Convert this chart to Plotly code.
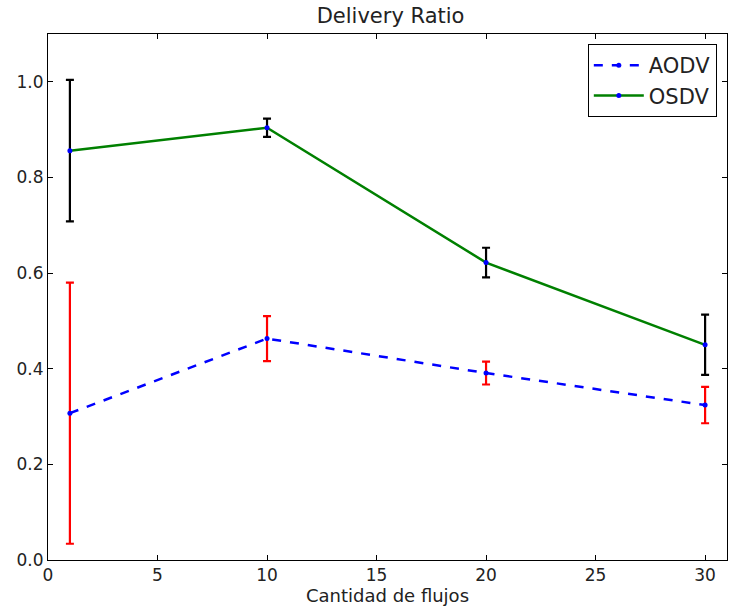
import plotly.graph_objects as go

flows = [1, 10, 20, 30]
aodv = [0.307, 0.463, 0.391, 0.324]
aodv_err = [0.273, 0.047, 0.024, 0.038]
osdv = [0.856, 0.904, 0.622, 0.450]
osdv_err = [0.148, 0.019, 0.031, 0.063]
x_ticks = [0, 5, 10, 15, 20, 25, 30]
y_ticks = [0.0, 0.2, 0.4, 0.6, 0.8, 1.0]

font = "DejaVu Sans"
fig = go.Figure()
fig.add_trace(go.Scatter(
    x=flows, y=aodv, name="AODV", mode="lines+markers",
    line=dict(color="#0000ff", width=2.5, dash="dash"),
    marker=dict(color="#0000ff", size=5),
    error_y=dict(type="data", array=aodv_err, visible=True, color="#ff0000", thickness=2.2, width=4),
))
fig.add_trace(go.Scatter(
    x=flows, y=osdv, name="OSDV", mode="lines+markers",
    line=dict(color="#008000", width=2.5),
    marker=dict(color="#0000ff", size=5),
    error_y=dict(type="data", array=osdv_err, visible=True, color="#000000", thickness=2.2, width=4),
))

axis_common = dict(
    showline=True, linecolor="black", linewidth=1, mirror="ticks",
    ticks="inside", ticklen=5, tickcolor="black", showgrid=False, zeroline=False,
    tickfont=dict(family=font, size=17, color="#222"),
)
fig.update_xaxes(range=[0, 31], tickvals=x_ticks, ticktext=[str(v) for v in x_ticks],
                 title=dict(text="Cantidad de flujos", font=dict(family=font, size=18, color="#222"), standoff=0),
                 **axis_common)
fig.update_yaxes(range=[0, 1.1], tickvals=y_ticks, ticktext=[f"{v:.1f}" for v in y_ticks],
                 **axis_common)
fig.update_layout(
    width=730, height=606,
    margin=dict(l=48, r=3, t=34, b=46),
    paper_bgcolor="white", plot_bgcolor="white",
    title=dict(text="Delivery Ratio", x=0.535, xanchor="center", y=0.975, yanchor="middle",
               font=dict(family=font, size=21, color="#222")),
    legend=dict(x=0.985, y=0.981, xanchor="right", yanchor="top",
                bordercolor="black", borderwidth=1, bgcolor="white",
                font=dict(family=font, size=21, color="#222"), tracegroupgap=0,
                itemwidth=50),
    showlegend=True,
)
fig.write_html("out.html")
